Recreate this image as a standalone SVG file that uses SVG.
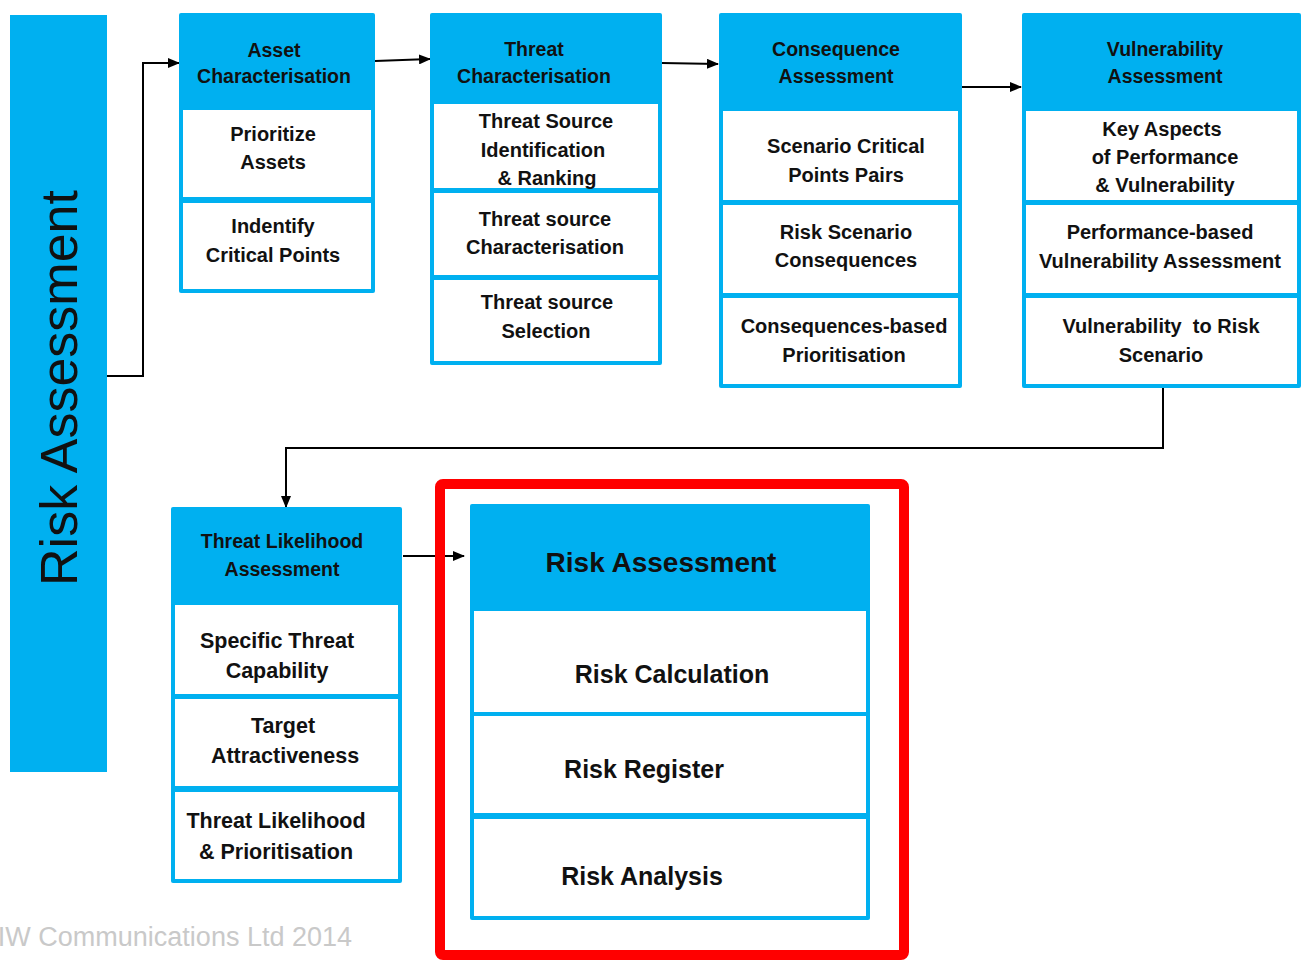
<svg xmlns="http://www.w3.org/2000/svg" width="1302" height="960" viewBox="0 0 1302 960">
<style>
.blue{fill:#00B0F0}
.row{fill:#FFFFFF}
.h{font-family:"Liberation Sans",Arial,sans-serif;font-weight:bold;font-size:19.5px;fill:#111;text-anchor:middle}
.t{font-family:"Liberation Sans",Arial,sans-serif;font-weight:bold;font-size:20px;fill:#111;text-anchor:middle}
.t2{font-family:"Liberation Sans",Arial,sans-serif;font-weight:bold;font-size:21.5px;fill:#111;text-anchor:middle}
.t3{font-family:"Liberation Sans",Arial,sans-serif;font-weight:bold;font-size:25px;fill:#111;text-anchor:middle}
.conn{fill:none;stroke:#000;stroke-width:2}
</style>
<defs>
<marker id="arr" markerWidth="12" markerHeight="10" refX="11" refY="5" orient="auto" markerUnits="userSpaceOnUse">
<path d="M0,0 L12,5 L0,10 Z" fill="#000"/>
</marker>
</defs>
<rect width="1302" height="960" fill="#FFFFFF"/>

<g id="side">
<rect class="blue" x="10" y="15" width="97" height="757"/>
<text transform="translate(77,388) rotate(-90)" font-family="'Liberation Sans',Arial,sans-serif" font-size="52" fill="#111" text-anchor="middle">Risk Assessment</text>
</g>

<g id="connectors">
<path class="conn" d="M107,376 H143 V63 H179" marker-end="url(#arr)"/>
<path class="conn" d="M375,61 L430,59" marker-end="url(#arr)"/>
<path class="conn" d="M662,63 L718,64" marker-end="url(#arr)"/>
<path class="conn" d="M962,87 L1021,87" marker-end="url(#arr)"/>
<path class="conn" d="M1163,388 V448 H286 V507" marker-end="url(#arr)"/>
<path class="conn" d="M403,556 H464" marker-end="url(#arr)"/>
</g>

<g id="asset">
<rect class="blue" x="179" y="13" width="196" height="280" rx="2"/>
<rect class="row" x="183" y="110" width="188" height="87"/>
<rect class="row" x="183" y="203" width="188" height="86"/>
<text class="h" x="274" y="57">Asset</text>
<text class="h" x="274" y="83">Characterisation</text>
<text class="t" x="273" y="141">Prioritize</text>
<text class="t" x="273" y="169">Assets</text>
<text class="t" x="273" y="233">Indentify</text>
<text class="t" x="273" y="262">Critical Points</text>
</g>

<g id="threat">
<rect class="blue" x="430" y="13" width="232" height="352" rx="2"/>
<rect class="row" x="434" y="104" width="224" height="84"/>
<rect class="row" x="434" y="193" width="224" height="82"/>
<rect class="row" x="434" y="280" width="224" height="81"/>
<text class="h" x="534" y="56">Threat</text>
<text class="h" x="534" y="83">Characterisation</text>
<text class="t" x="546" y="128">Threat Source</text>
<text class="t" x="543" y="157">Identification</text>
<text class="t" x="547" y="185">&amp; Ranking</text>
<text class="t" x="545" y="226">Threat source</text>
<text class="t" x="545" y="254">Characterisation</text>
<text class="t" x="547" y="309">Threat source</text>
<text class="t" x="546" y="338">Selection</text>
</g>

<g id="consequence">
<rect class="blue" x="719" y="13" width="243" height="375" rx="2"/>
<rect class="row" x="723" y="111" width="235" height="89"/>
<rect class="row" x="723" y="205" width="235" height="88"/>
<rect class="row" x="723" y="298" width="235" height="86"/>
<text class="h" x="836" y="56">Consequence</text>
<text class="h" x="836" y="83">Assessment</text>
<text class="t" x="846" y="153">Scenario Critical</text>
<text class="t" x="846" y="182">Points Pairs</text>
<text class="t" x="846" y="239">Risk Scenario</text>
<text class="t" x="846" y="267">Consequences</text>
<text class="t" x="844" y="333">Consequences-based</text>
<text class="t" x="844" y="362">Prioritisation</text>
</g>

<g id="vulnerability">
<rect class="blue" x="1022" y="13" width="279" height="375" rx="2"/>
<rect class="row" x="1026" y="111" width="271" height="89"/>
<rect class="row" x="1026" y="205" width="271" height="88"/>
<rect class="row" x="1026" y="298" width="271" height="86"/>
<text class="h" x="1165" y="56">Vulnerability</text>
<text class="h" x="1165" y="83">Assessment</text>
<text class="t" x="1162" y="136">Key Aspects</text>
<text class="t" x="1165" y="164">of Performance</text>
<text class="t" x="1165" y="192">&amp; Vulnerability</text>
<text class="t" x="1160" y="239">Performance-based</text>
<text class="t" x="1160" y="268">Vulnerability Assessment</text>
<text class="t" x="1161" y="333" xml:space="preserve">Vulnerability  to Risk</text>
<text class="t" x="1161" y="362">Scenario</text>
</g>

<g id="likelihood">
<rect class="blue" x="171" y="507" width="231" height="376" rx="2"/>
<rect class="row" x="175" y="605" width="223" height="89"/>
<rect class="row" x="175" y="699" width="223" height="87"/>
<rect class="row" x="175" y="792" width="223" height="87"/>
<text class="h" x="282" y="548">Threat Likelihood</text>
<text class="h" x="282" y="576">Assessment</text>
<text class="t2" x="277" y="648">Specific Threat</text>
<text class="t2" x="277" y="678">Capability</text>
<text class="t2" x="283" y="733">Target</text>
<text class="t2" x="285" y="763">Attractiveness</text>
<text class="t2" x="276" y="828">Threat Likelihood</text>
<text class="t2" x="276" y="859">&amp; Prioritisation</text>
</g>

<g id="risk">
<rect x="440" y="484" width="464" height="471" rx="3" fill="none" stroke="#FF0000" stroke-width="10"/>
<rect class="blue" x="470" y="504" width="400" height="416" rx="2"/>
<rect class="row" x="474" y="611" width="392" height="101"/>
<rect class="row" x="474" y="716" width="392" height="97"/>
<rect class="row" x="474" y="819" width="392" height="97"/>
<text x="661" y="572" font-family="'Liberation Sans',Arial,sans-serif" font-weight="bold" font-size="28" fill="#111" text-anchor="middle">Risk Assessment</text>
<text class="t3" x="672" y="683">Risk Calculation</text>
<text class="t3" x="644" y="778">Risk Register</text>
<text class="t3" x="642" y="885">Risk Analysis</text>
</g>

<text x="352" y="946" font-family="'Liberation Sans',Arial,sans-serif" font-size="27" fill="#C9C9C9" text-anchor="end">IW Communications Ltd 2014</text>
</svg>
